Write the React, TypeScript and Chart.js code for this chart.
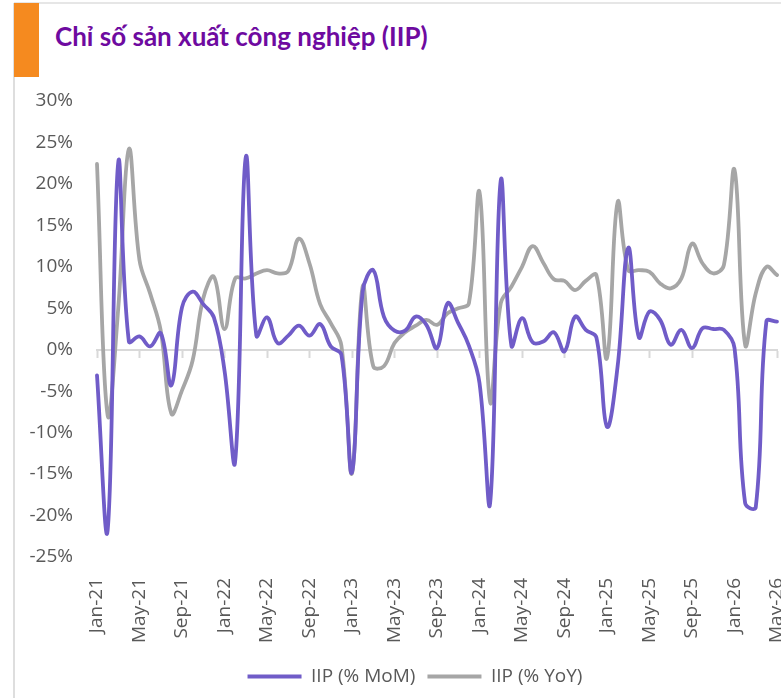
import React, { useEffect, useRef } from "react";
import { Chart, registerables } from "chart.js";

Chart.register(...registerables);

const monthNames = ["Jan", "Feb", "Mar", "Apr", "May", "Jun", "Jul", "Aug", "Sep", "Oct", "Nov", "Dec"];
const years = ["21", "22", "23", "24", "25", "26"];
const categories: string[] = [];
for (const y of years) {
  for (const m of monthNames) {
    categories.push(`${m}-${y}`);
    if (y === "26" && m === "May") break;
  }
}

const momValues = [
  -3.1, -21.8, 22.6, 1.0, 1.6, 0.4, 2.0, -4.3, 5.1, 7.0, 5.5, 3.9,
  -2.5, -13.5, 23.2, 1.7, 3.9, 0.8, 1.7, 2.9, 1.7, 3.1, 0.4, -0.6,
  -14.8, 7.0, 9.6, 4.0, 2.3, 2.3, 4.0, 3.0, 0.2, 5.6, 3.2, 0.5,
  -4.0, -18.5, 20.4, 0.5, 3.8, 0.9, 1.0, 2.1, -0.2, 4.0, 2.4, 1.5,
  -9.3, -2.0, 12.3, 1.5, 4.6, 3.6, 0.6, 2.4, 0.2, 2.6, 2.5, 2.4,
  0.2, -18.5, -19.0, 3.4, 3.4,
];

const yoyValues = [
  22.4, -7.9, 5.0, 24.2, 10.8, 6.8, 2.3, -7.7, -4.9, -1.3, 6.2, 8.8,
  2.5, 8.6, 8.6, 9.2, 9.6, 9.2, 9.5, 13.4, 10.4, 5.5, 3.2, 0.5,
  -14.9, 7.6, -2.0, -2.0, 0.8, 2.1, 2.9, 3.6, 3.0, 4.4, 5.0, 5.6,
  19.0, -6.3, 5.6, 7.6, 10.0, 12.5, 10.5, 8.5, 8.3, 7.2, 8.3, 9.0,
  -1.0, 17.8, 9.6, 9.6, 9.4, 8.0, 7.4, 8.6, 12.8, 10.4, 9.2, 10.2,
  21.7, 0.6, 6.8, 10.0, 9.0,
];

const seriesNames = ["IIP (% MoM)", "IIP (% YoY)"];
const yMin = -25;
const yMax = 30;
const yStep = 5;
const labelEvery = 4;

const TICK_COLOR = "#595959";
const FONT = "'Open Sans', 'Noto Sans', sans-serif";

const legendShift = {
  id: "legendShift",
  afterLayout(chart: any) {
    const lg = chart.legend;
    if (!lg) return;
    const c = (lg.left + lg.right) / 2;
    const d = 415 - c;
    lg.left += d;
    lg.right += d;
  },
};

export default function App() {
  const ref = useRef<HTMLCanvasElement>(null);

  useEffect(() => {
    if (!ref.current) return;
    const chart = new Chart(ref.current, {
      type: "line",
      data: {
        labels: categories,
        datasets: [
          {
            label: seriesNames[0],
            data: momValues,
            borderColor: "#705CC8",
            backgroundColor: "#705CC8",
            borderWidth: 3.8,
            pointRadius: 0,
            tension: 0.4,
            borderCapStyle: "round",
            borderJoinStyle: "round",
          },
          {
            label: seriesNames[1],
            data: yoyValues,
            borderColor: "#A6A6A6",
            backgroundColor: "#A6A6A6",
            borderWidth: 3.8,
            pointRadius: 0,
            tension: 0.4,
            borderCapStyle: "round",
            borderJoinStyle: "round",
          },
        ],
      },
      options: {
        responsive: false,
        animation: false,
        devicePixelRatio: 1,
        layout: { padding: { top: 101, left: 0, right: 4, bottom: 2 } },
        plugins: {
          title: { display: false },
          tooltip: { enabled: false },
          legend: {
            position: "bottom",
            labels: {
              usePointStyle: true,
              pointStyle: "line",
              pointStyleWidth: 54,
              boxWidth: 54,
              padding: 12,
              color: TICK_COLOR,
              font: { family: FONT, size: 19 },
            },
          },
        },
        scales: {
          x: {
            type: "category",
            position: "bottom",
            offset: false,
            grid: { display: false, drawTicks: false },
            border: { display: false },
            ticks: {
              autoSkip: false,
              maxRotation: 90,
              minRotation: 90,
              padding: 21,
              color: TICK_COLOR,
              font: { family: FONT, size: 19 },
              callback: (_v: any, i: number) => (i % labelEvery === 0 ? categories[i] : ""),
            },
            afterFit: (s: any) => {
              s.height = 98;
              s.paddingLeft = 0;
              s.paddingRight = 0;
            },
          },
          x2: {
            type: "category",
            position: { y: 0 } as any,
            offset: false,
            grid: {
              display: true,
              drawOnChartArea: false,
              drawTicks: true,
              tickLength: 7,
              tickWidth: 2,
              tickColor: (ctx: any) => (ctx.index % labelEvery === 0 ? "#D9D9D9" : "rgba(0,0,0,0)"),
            },
            border: { display: true, color: "#D9D9D9", width: 2 },
            ticks: { display: false },
          },
          y: {
            min: yMin,
            max: yMax,
            grid: { display: false, drawTicks: false },
            border: { display: false },
            ticks: {
              stepSize: yStep,
              padding: 24,
              color: TICK_COLOR,
              font: { family: FONT, size: 19 },
              callback: (v: any) => `${v}%`,
            },
            afterFit: (s: any) => {
              s.width = 97;
            },
          },
        },
      },
      plugins: [legendShift],
    });
    return () => chart.destroy();
  }, []);

  return (
    <div
      style={{
        position: "absolute",
        left: 0,
        top: 0,
        width: 781,
        height: 698,
        background: "#ffffff",
        overflow: "hidden",
      }}
    >
      <div style={{ position: "absolute", left: 14, top: 2, width: 767, height: 2, background: "#E6E6E6" }} />
      <div style={{ position: "absolute", left: 13, top: 3, width: 2, height: 695, background: "#DEDEDE" }} />
      <div style={{ position: "absolute", left: 14, top: 3, width: 25, height: 74, background: "#F58A1F" }} />
      <div
        style={{
          position: "absolute",
          left: 55,
          top: 21,
          fontFamily: "Lato, 'Open Sans', sans-serif",
          fontWeight: 700,
          fontSize: 26,
          lineHeight: "31px",
          color: "#6E0AA0",
          whiteSpace: "nowrap",
        }}
      >
        Chỉ số sản xuất công nghiệp (IIP)
      </div>
      <canvas ref={ref} width={781} height={698} style={{ position: "absolute", left: 0, top: 0 }} />
    </div>
  );
}
